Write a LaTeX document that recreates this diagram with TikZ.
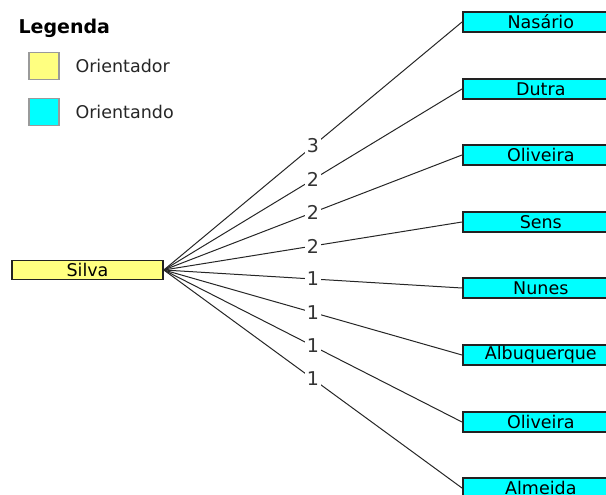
\documentclass[tikz,border=0pt]{standalone}
\usepackage{fontspec}
\setmainfont{DejaVu Sans}
\usetikzlibrary{positioning}
\definecolor{cAdv}{HTML}{FFFF80}
\definecolor{cStu}{HTML}{00FFFF}
\definecolor{cInk}{HTML}{222222}
\definecolor{cRim}{HTML}{9A9A9A}
\tikzset{
  person/.style={draw=cInk, line width=1.6pt, inner sep=0pt, minimum height=19, font=\fontsize{17.5}{17.5}\selectfont},
  adv/.style={person, fill=cAdv, minimum width=151},
  stu/.style={person, fill=cStu, minimum width=156, minimum height=20, anchor=west},
  key/.style={draw=cRim, line width=1.6pt, minimum width=30, minimum height=27, inner sep=0pt},
  keytext/.style={anchor=west, font=\fontsize{17.5}{17.5}\selectfont, text=black!85},
  link/.style={draw=black!85, line width=1pt},
  wt/.style={fill=white, inner sep=2pt, font=\fontsize{19}{19}\selectfont, text=black!80},
}
\begin{document}
\begin{tikzpicture}[x=1pt, y=-1pt]
\useasboundingbox (0,0) rectangle (606,495);
\clip (0,0) rectangle (606,495);
% legend
\node[anchor=west, font=\fontsize{19}{19}\selectfont\bfseries] (leg) at (15,28) {Legenda};
\node[key, fill=cAdv] (kadv) at (44,66) {};
\node[keytext] (tadv) at (72,66) {Orientador};
\node[key, fill=cStu] (kstu) at (44,112) {};
\node[keytext] (tstu) at (72,112) {Orientando};

% advisor
\node[adv] (silva) at (87.5,270) {Silva};

% students, pitch 66.6
\node[stu] (nas) at (462,22)  {Nasário};
\node[stu] (dut) at (462,89)  {Dutra};
\node[stu] (oli) at (462,155) {Oliveira};
\node[stu] (sen) at (462,222) {Sens};
\node[stu] (nun) at (462,288) {Nunes};
\node[stu] (alb) at (462,355) {Albuquerque};
\node[stu] (olb) at (462,422) {Oliveira};
\node[stu] (alm) at (462,488) {Almeida};

% supervisions
\draw[link] (silva.east) -- (nas.west) node[wt, midway] {3};
\draw[link] (silva.east) -- (dut.west) node[wt, midway] {2};
\draw[link] (silva.east) -- (oli.west) node[wt, midway] {2};
\draw[link] (silva.east) -- (sen.west) node[wt, midway] {2};
\draw[link] (silva.east) -- (nun.west) node[wt, midway] {1};
\draw[link] (silva.east) -- (alb.west) node[wt, midway] {1};
\draw[link] (silva.east) -- (olb.west) node[wt, midway] {1};
\draw[link] (silva.east) -- (alm.west) node[wt, midway] {1};
\end{tikzpicture}
\end{document}
